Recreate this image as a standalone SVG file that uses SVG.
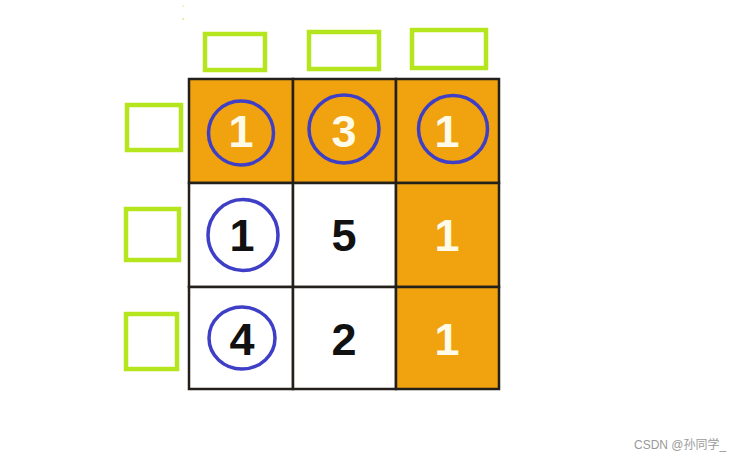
<svg xmlns="http://www.w3.org/2000/svg" width="737" height="460" viewBox="0 0 737 460">
<style>
.cell{stroke:#231f1a;stroke-width:2.5}
.org{fill:#f0a30f}
.wht{fill:#ffffff}
.lbl{fill:none;stroke:#b5e61d;stroke-width:4.5}
.ring{fill:none;stroke:#3e3ec6;stroke-width:3.5}
.num{font-family:"Liberation Sans",Arial,sans-serif;font-weight:bold;font-size:45px;text-anchor:middle}
.nw{fill:#fffbe8}
.nb{fill:#111111}
.wm{font-family:"Liberation Sans","Noto Sans CJK SC",sans-serif;font-size:12px;fill:#9a9a9a}
</style>
<rect width="737" height="460" fill="#ffffff"/>
<g id="specks"><rect x="182.5" y="5.5" width="1" height="1" fill="#b5e61d"/><rect x="182.5" y="18.5" width="1.5" height="1" fill="#b5e61d"/></g>
<g id="col-labels">
<rect class="lbl" x="205" y="34" width="60" height="36"/>
<rect class="lbl" x="309" y="32" width="70" height="37"/>
<rect class="lbl" x="412" y="30" width="74" height="38"/>
</g>
<g id="row-labels">
<rect class="lbl" x="127" y="105" width="54" height="45"/>
<rect class="lbl" x="126" y="209" width="53" height="51"/>
<rect class="lbl" x="126" y="314" width="51" height="55"/>
</g>
<g id="grid">
<g id="c00"><rect class="cell org" x="189" y="79" width="104" height="104"/><text class="num nw" x="241" y="147">1</text></g>
<g id="c01"><rect class="cell org" x="293" y="79" width="103" height="104"/><text class="num nw" x="344" y="147">3</text></g>
<g id="c02"><rect class="cell org" x="396" y="79" width="103" height="104"/><text class="num nw" x="447" y="147">1</text></g>
<g id="c10"><rect class="cell wht" x="189" y="183" width="104" height="104"/><text class="num nb" x="242" y="251">1</text></g>
<g id="c11"><rect class="cell wht" x="293" y="183" width="103" height="104"/><text class="num nb" x="344" y="251">5</text></g>
<g id="c12"><rect class="cell org" x="396" y="183" width="103" height="104"/><text class="num nw" x="447" y="251">1</text></g>
<g id="c20"><rect class="cell wht" x="189" y="287" width="104" height="102"/><text class="num nb" x="242" y="355">4</text></g>
<g id="c21"><rect class="cell wht" x="293" y="287" width="103" height="102"/><text class="num nb" x="344" y="355">2</text></g>
<g id="c22"><rect class="cell org" x="396" y="287" width="103" height="102"/><text class="num nw" x="447" y="355">1</text></g>
</g>
<g id="rings">
<ellipse class="ring" cx="241" cy="133" rx="32.5" ry="32"/>
<ellipse class="ring" cx="344" cy="129" rx="35" ry="34"/>
<ellipse class="ring" cx="453" cy="129" rx="34.5" ry="33.5"/>
<ellipse class="ring" cx="243" cy="235" rx="35" ry="35.5"/>
<ellipse class="ring" cx="242" cy="338" rx="33" ry="31"/>
</g>
<text class="wm" x="634" y="449">CSDN @孙同学_</text>
</svg>
